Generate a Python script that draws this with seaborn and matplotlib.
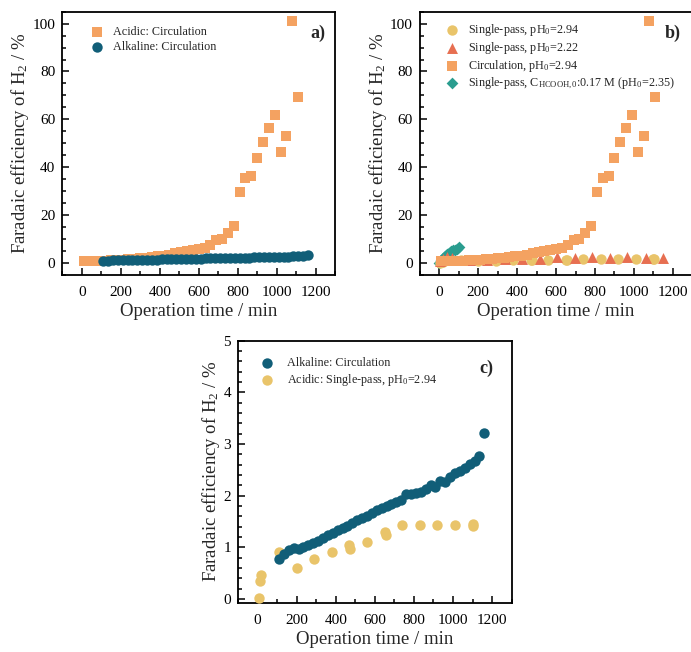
import numpy as np
import pandas as pd
import matplotlib
matplotlib.use("Agg")
import matplotlib.pyplot as plt
from matplotlib.ticker import MultipleLocator
import seaborn as sns

# ---- data -------------------------------------------------------------
# Acidic electrolyte, circulation mode (pH0 = 2.94)
acid_circ_t = [10, 30, 60, 90, 120, 150, 180, 210, 240, 270, 300, 330, 360, 390,
               420, 450, 480, 510, 540, 570, 600, 630, 660, 690, 720, 750, 780,
               810, 840, 870, 900, 930, 960, 990, 1020, 1050, 1080, 1110]
acid_circ_fe = [0.5, 0.6, 0.7, 0.8, 0.9, 1.0, 1.1, 1.3, 1.5, 1.7, 1.9, 2.1, 2.4, 2.7,
                3.0, 3.4, 3.9, 4.4, 4.8, 5.2, 5.8, 6.3, 7.2, 9.5, 9.8, 12.3, 15.3,
                29.7, 35.5, 36.4, 43.9, 50.6, 56.5, 61.8, 46.4, 53.0, 101.0, 69.2]

# Alkaline electrolyte, circulation mode
alk_circ_t = [110, 135, 160, 185, 210, 235, 260, 285, 310, 335, 360, 385, 410, 435,
              460, 485, 510, 535, 560, 585, 610, 635, 660, 685, 710, 735, 760, 785,
              810, 835, 860, 885, 910, 935, 960, 985, 1010, 1035, 1060, 1085, 1110,
              1135, 1160]
alk_circ_fe = [0.77, 0.88, 0.95, 0.98, 0.97, 1.00, 1.04, 1.09, 1.13, 1.18, 1.24, 1.28,
               1.33, 1.37, 1.42, 1.48, 1.53, 1.57, 1.61, 1.66, 1.72, 1.77, 1.80, 1.84,
               1.87, 1.91, 2.03, 2.03, 2.05, 2.08, 2.13, 2.21, 2.17, 2.28, 2.27, 2.36,
               2.44, 2.48, 2.54, 2.62, 2.68, 2.76, 3.21]

# Acidic, single-pass, pH0 = 2.94
sp294_t = [5, 12, 20, 110, 200, 290, 380, 470, 475, 560, 650, 655, 740, 830, 920,
           1010, 1100, 1102]
sp294_fe = [0.03, 0.35, 0.46, 0.92, 0.61, 0.78, 0.92, 1.05, 0.97, 1.10, 1.30, 1.25,
            1.43, 1.43, 1.43, 1.43, 1.46, 1.42]

# Acidic, single-pass, pH0 = 2.22
sp222_t = [5, 20, 40, 65, 155, 245, 335, 425, 515, 605, 695, 785, 875, 965, 1060, 1150]
sp222_fe = [0.5, 1.5, 2.2, 2.0, 1.2, 1.3, 1.4, 1.5, 1.6, 2.2, 1.8, 2.2, 2.1, 2.2, 2.1, 2.1]

# Single-pass with 0.17 M HCOOH added (pH0 = 2.35)
hcooh_t = [0, 10, 20, 30, 40, 50, 60, 70, 80, 90, 100]
hcooh_fe = [0.0, 1.0, 2.0, 3.0, 3.6, 4.2, 4.7, 5.1, 5.4, 5.8, 6.4]

# ---- styling ----------------------------------------------------------
C_ORANGE = "#F4A261"
C_TEAL = "#115E78"
C_YELLOW = "#E9C46A"
C_RED = "#E76F51"
C_GREEN = "#2A9D8F"

S_SQ, S_O, S_TRI, S_D = 44, 56, 62, 36

sns.set_theme(style="ticks")
plt.rcParams["font.family"] = ["Liberation Serif", "DejaVu Serif"]
plt.rcParams["mathtext.fontset"] = "custom"
plt.rcParams["mathtext.rm"] = "Liberation Serif"
plt.rcParams["mathtext.it"] = "Liberation Serif:italic"
plt.rcParams["mathtext.bf"] = "Liberation Serif:bold"
plt.rcParams["axes.edgecolor"] = "black"
plt.rcParams["axes.linewidth"] = 1.3

fig = plt.figure(figsize=(6.91, 6.52), dpi=100)
ax_a = fig.add_axes([0.0900, 0.5788, 0.3951, 0.4032])
ax_b = fig.add_axes([0.6077, 0.5788, 0.3941, 0.4032])
ax_c = fig.add_axes([0.3444, 0.0756, 0.3961, 0.4018])

YLABEL = "Faradaic efficiency of H$_\\mathrm{2}$ / %"
XLABEL = "Operation time / min"


def frame(ax, ymaj, ymin):
    ax.set_xlim(-100, 1300)
    ax.xaxis.set_major_locator(MultipleLocator(200))
    ax.xaxis.set_minor_locator(MultipleLocator(100))
    ax.yaxis.set_major_locator(MultipleLocator(ymaj))
    ax.yaxis.set_minor_locator(MultipleLocator(ymin))
    ax.tick_params(which="both", direction="in", top=False, right=False,
                   colors="black", labelsize=11, width=1.1)
    ax.tick_params(which="major", length=5,)
    ax.tick_params(which="minor", length=3)
    ax.tick_params(axis="x", which="major", pad=8)
    ax.tick_params(axis="y", which="major", pad=5)
    ax.set_xticks([0, 200, 400, 600, 800, 1000, 1200])
    ax.set_xlabel(XLABEL, fontsize=13.5, labelpad=3)
    ax.set_ylabel(YLABEL, fontsize=13.5, labelpad=1)
    for sp in ax.spines.values():
        sp.set_visible(True)
        sp.set_color("black")


def pts(ax, t, fe, color, marker, s, label):
    sns.scatterplot(x=t, y=fe, color=color, marker=marker, s=s, linewidth=0,
                    ax=ax, label=label, zorder=3)


LEG = dict(frameon=False, fontsize=8.7, borderaxespad=0, borderpad=0,
           handlelength=1.0, markerscale=1.0)

# ---- a) acidic vs alkaline circulation ---------------------------------
pts(ax_a, acid_circ_t, acid_circ_fe, C_ORANGE, "s", S_SQ, "Acidic: Circulation")
pts(ax_a, alk_circ_t, alk_circ_fe, C_TEAL, "o", S_O, "Alkaline: Circulation")
frame(ax_a, 20, 5)
ax_a.set_ylim(-5, 105)
ax_a.set_yticks([0, 20, 40, 60, 80, 100])
ax_a.legend(loc="upper left", bbox_to_anchor=(0.104, 0.944), labelspacing=0.2,
            handletextpad=0.85, **LEG)
ax_a.text(0.935, 0.9165, "a)", transform=ax_a.transAxes, fontsize=13,
          fontweight="bold", ha="center", va="center")

# ---- b) operating modes in acidic electrolyte --------------------------
pts(ax_b, hcooh_t, hcooh_fe, C_GREEN, "D", S_D,
    "Single-pass, C$_\\mathrm{HCOOH,0}$:0.17 M (pH$_\\mathrm{0}$=2.35)")
pts(ax_b, sp294_t, sp294_fe, C_YELLOW, "o", S_O, "Single-pass, pH$_\\mathrm{0}$=2.94")
pts(ax_b, sp222_t, sp222_fe, C_RED, "^", S_TRI, "Single-pass, pH$_\\mathrm{0}$=2.22")
pts(ax_b, acid_circ_t, acid_circ_fe, C_ORANGE, "s", S_SQ, "Circulation, pH$_\\mathrm{0}$=2.94")
frame(ax_b, 20, 5)
ax_b.set_ylim(-5, 105)
ax_b.set_yticks([0, 20, 40, 60, 80, 100])
h, l = ax_b.get_legend_handles_labels()
order = [1, 2, 3, 0]
ax_b.legend([h[i] for i in order], [l[i] for i in order], loc="upper left",
            bbox_to_anchor=(0.095, 0.96), labelspacing=0.15, handletextpad=0.85, **LEG)
ax_b.text(0.93, 0.9165, "b)", transform=ax_b.transAxes, fontsize=13,
          fontweight="bold", ha="center", va="center")

# ---- c) low-FE detail ---------------------------------------------------
pts(ax_c, sp294_t, sp294_fe, C_YELLOW, "o", S_O, "Acidic: Single-pass, pH$_\\mathrm{0}$=2.94")
pts(ax_c, alk_circ_t, alk_circ_fe, C_TEAL, "o", S_O, "Alkaline: Circulation")
frame(ax_c, 1, 0.2)
ax_c.set_ylim(-0.07, 5)
ax_c.set_yticks([0, 1, 2, 3, 4, 5])
h, l = ax_c.get_legend_handles_labels()
ax_c.legend([h[1], h[0]], [l[1], l[0]], loc="upper left",
            bbox_to_anchor=(0.083, 0.937), labelspacing=0.25, handletextpad=1.15, **LEG)
ax_c.text(0.909, 0.895, "c)", transform=ax_c.transAxes, fontsize=13,
          fontweight="bold", ha="center", va="center")

fig.savefig("out.png", dpi=100)
